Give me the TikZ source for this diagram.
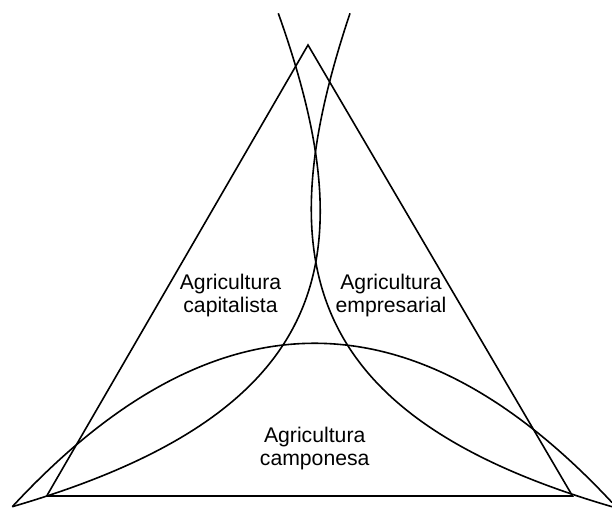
\documentclass[tikz,border=0pt]{standalone}
\usepackage{fontspec}
\setmainfont{Liberation Sans}
\begin{document}
\begin{tikzpicture}[x=1pt,y=-1pt,
  line/.style={line width=1.6pt, line join=miter},
  lbl/.style={font=\fontsize{21.2}{23}\selectfont, align=center, inner sep=0pt}]
\useasboundingbox (0,0) rectangle (612,508);
% triangle
\coordinate (apex) at (308,45);
\coordinate (bl) at (46.7,496);
\coordinate (br) at (572.5,496);
\draw[line] (apex) -- (bl) -- (br) -- cycle;
% wide arc (camponesa)
\coordinate (wl) at (12.3,506.7);
\coordinate (wr) at (612,502.5);
\draw[line] (wl) .. controls (212.8,290.2) and (412.7,288.8) .. (wr);
% left arc (capitalista)
\coordinate (lt) at (278.3,13.3);
\coordinate (lb) at (12.3,506.7);
\draw[line] (lt) .. controls (363.7,253.5) and (338.7,411.5) .. (lb);
% right arc (empresarial)
\coordinate (rt) at (350,13.3);
\coordinate (rb) at (612,506.7);
\draw[line] (rt) .. controls (267.6,259.8) and (300,415.7) .. (rb);
% labels
\node[lbl] (cap) at (230.5,296) {Agricultura\\capitalista};
\node[lbl] (emp) at (391,296) {Agricultura\\empresarial};
\node[lbl] (camp) at (314.7,449) {Agricultura\\camponesa};
\end{tikzpicture}
\end{document}
